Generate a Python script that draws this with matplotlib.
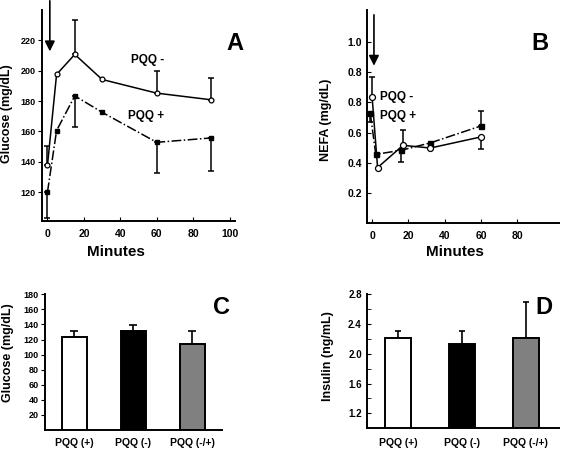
import numpy as np
import matplotlib.pyplot as plt

plt.rcParams['font.family'] = ['Liberation Sans', 'DejaVu Sans']
plt.rcParams['font.weight'] = 'bold'

# Panel A - blood glucose after load
time_a = [0, 5, 15, 30, 60, 90]
glu_minus = [137.6, 197.5, 210.7, 194.2, 185.2, 180.8]
glu_minus_up = [12.9, 0, 22.5, 0, 14.3, 14.1]
glu_plus = [120.0, 160.5, 183.4, 172.6, 152.8, 155.7]
glu_plus_low = [17.2, 0, 20.2, 0, 20.0, 21.6]

# Panel B - NEFA
time_b_minus = [0, 3, 17, 32, 60]
time_b_plus = [-1, 2, 16, 32, 60]
nefa_minus = [0.835, 0.367, 0.515, 0.497, 0.571]
nefa_minus_up = [0.132, 0, 0.10, 0, 0]
nefa_minus_low = [0, 0, 0, 0, 0.082]
nefa_plus = [0.727, 0.455, 0.482, 0.531, 0.644]
nefa_plus_up = [0, 0, 0, 0, 0.10]
nefa_plus_low = [0.06, 0, 0.078, 0, 0]
nefa_ticks = [0.2, 0.4, 0.6, 0.8, 1.0, 1.2]
nefa_ticklabels = ['0.2', '0.4', '0.6', '0.8', '0.8', '1.0']

# Panels C and D - bars
groups = ['PQQ (+)', 'PQQ (-)', 'PQQ (-/+)']
bar_colors = ['white', 'black', '#808080']
glu_bar = [122.7, 131.6, 114.2]
glu_bar_err = [8.4, 7.5, 16.9]
ins_bar = [2.214, 2.134, 2.214]
ins_bar_err = [0.094, 0.174, 0.476]


def err_bars(ax, x, y, low, up, cap=2.2):
    x, y, low, up = map(np.asarray, (x, y, low, up))
    keep = (low > 0) | (up > 0)
    if keep.any():
        ax.errorbar(x[keep], y[keep], yerr=[low[keep], up[keep]], fmt='none',
                    ecolor='black', elinewidth=1.1, capsize=cap, capthick=1.1, zorder=2)


def style(ax):
    ax.spines['top'].set_visible(False)
    ax.spines['right'].set_visible(False)
    ax.spines['left'].set_linewidth(1.4)
    ax.spines['bottom'].set_linewidth(1.4)


fig = plt.figure(figsize=(5.63, 4.51), dpi=100)

# ---- A
ax = fig.add_axes([0.0746, 0.510, 0.3428, 0.468])
style(ax)
ax.plot(time_a, glu_minus, '-', color='black', lw=1.1, marker='o', ms=3.5,
        mfc='white', mec='black', mew=0.9, zorder=3)
ax.plot(time_a, glu_plus, '-.', color='black', lw=1.1, marker='s', ms=3.2,
        mfc='black', mec='black', zorder=3)
err_bars(ax, time_a, glu_minus, np.zeros(6), glu_minus_up)
err_bars(ax, time_a, glu_plus, glu_plus_low, np.zeros(6))
ax.set_xlim(-3, 103)
ax.set_ylim(101, 240)
ax.set_xticks([0, 20, 40, 60, 80, 100])
ax.set_yticks([120, 140, 160, 180, 200, 220])
ax.tick_params(axis='x', direction='in', length=3, labelsize=7.5, pad=6)
ax.tick_params(axis='y', direction='out', length=3, labelsize=6.5, pad=1.5)
ax.set_ylabel('Glucose (mg/dL)', fontsize=9, fontweight='bold')
ax.yaxis.set_label_coords(-0.150, 0.507)
ax.set_xlabel('Minutes', fontsize=11, fontweight='bold')
ax.xaxis.set_label_coords(0.383, -0.114)
ax.text(55, 207, 'PQQ -', fontsize=8.5, fontweight='bold', ha='center', va='center')
ax.text(54, 170, 'PQQ +', fontsize=8.5, fontweight='bold', ha='center', va='center')
ax.annotate('', xy=(1.3, 212.7), xytext=(1.3, 246), annotation_clip=False,
            arrowprops=dict(arrowstyle='-|>,head_length=0.6,head_width=0.3',
                            color='black', lw=1.2, shrinkA=0, shrinkB=0))
ax.text(1.0, 0.84, 'A', transform=ax.transAxes, fontsize=17, fontweight='bold',
        ha='center', va='center')

# ---- B
ax = fig.add_axes([0.6513, 0.506, 0.342, 0.472])
style(ax)
ax.plot(time_b_plus, nefa_plus, '-.', color='black', lw=1.1, marker='s', ms=3.6,
        mfc='black', mec='black', zorder=3)
ax.plot(time_b_minus, nefa_minus, '-', color='black', lw=1.1, marker='o', ms=4.3,
        mfc='white', mec='black', mew=0.9, zorder=4)
err_bars(ax, time_b_minus, nefa_minus, nefa_minus_low, nefa_minus_up)
err_bars(ax, time_b_plus, nefa_plus, nefa_plus_low, nefa_plus_up)
ax.set_xlim(-3, 103)
ax.set_ylim(0, 1.415)
ax.set_xticks([0, 20, 40, 60, 80])
ax.set_yticks(nefa_ticks)
ax.set_yticklabels(nefa_ticklabels)
ax.tick_params(axis='x', direction='in', length=3, labelsize=7.5, pad=6)
ax.tick_params(axis='y', direction='in', length=3, labelsize=7.5)
ax.set_ylabel('NEFA (mg/dL)', fontsize=9, fontweight='bold')
ax.yaxis.set_label_coords(-0.18, 0.484)
ax.set_xlabel('Minutes', fontsize=11, fontweight='bold')
ax.xaxis.set_label_coords(0.458, -0.105)
ax.text(4.3, 0.833, 'PQQ -', fontsize=8.5, fontweight='bold', ha='left', va='center')
ax.text(4.3, 0.709, 'PQQ +', fontsize=8.5, fontweight='bold', ha='left', va='center')
ax.annotate('', xy=(1.0, 1.044), xytext=(1.0, 1.382), annotation_clip=False,
            arrowprops=dict(arrowstyle='-|>,head_length=0.6,head_width=0.3',
                            color='black', lw=1.2, shrinkA=0, shrinkB=0))
ax.text(0.9, 0.84, 'B', transform=ax.transAxes, fontsize=17, fontweight='bold',
        ha='center', va='center')

# ---- C
ax = fig.add_axes([0.080, 0.0466, 0.3138, 0.3009])
style(ax)
xpos = np.arange(len(groups))
ax.bar(xpos, glu_bar, width=0.42, color=bar_colors, edgecolor='black', linewidth=1.4, zorder=2)
ax.errorbar(xpos, glu_bar, yerr=[np.zeros(3), glu_bar_err], fmt='none', ecolor='black',
            elinewidth=1.2, capsize=2.9, capthick=1.2, zorder=1)
ax.set_xlim(-0.5, 2.5)
ax.set_ylim(0, 180)
ax.set_yticks(np.arange(20, 181, 20))
ax.set_xticks(xpos)
ax.set_xticklabels(groups)
ax.tick_params(axis='x', length=0, labelsize=7.5, pad=6)
ax.tick_params(axis='y', direction='out', length=3, labelsize=6.5, pad=1.5)
ax.set_ylabel('Glucose (mg/dL)', fontsize=9, fontweight='bold')
ax.yaxis.set_label_coords(-0.175, 0.57)
ax.text(1.0, 0.9, 'C', transform=ax.transAxes, fontsize=17, fontweight='bold',
        ha='center', va='center')

# ---- D
ax = fig.add_axes([0.6513, 0.0503, 0.342, 0.2978])
style(ax)
ax.bar(xpos, ins_bar, width=0.41, color=bar_colors, edgecolor='black', linewidth=1.4, zorder=2)
ax.errorbar(xpos, ins_bar, yerr=[np.zeros(3), ins_bar_err], fmt='none', ecolor='black',
            elinewidth=1.2, capsize=2.5, capthick=1.2, zorder=1)
ax.set_xlim(-0.5, 2.53)
ax.set_ylim(1.0, 2.8)
ax.set_yticks([1.2, 1.6, 2.0, 2.4, 2.8])
ax.set_yticks([1.4, 1.8, 2.2, 2.6], minor=True)
ax.set_xticks(xpos)
ax.set_xticklabels(groups)
ax.tick_params(axis='x', length=0, labelsize=7.5, pad=7)
ax.tick_params(axis='y', which='both', direction='in', length=3, labelsize=7)
ax.set_ylabel('Insulin (ng/mL)', fontsize=9, fontweight='bold')
ax.yaxis.set_label_coords(-0.17, 0.54)
ax.text(0.92, 0.9, 'D', transform=ax.transAxes, fontsize=17, fontweight='bold',
        ha='center', va='center')

fig.savefig('out.png', dpi=100)
